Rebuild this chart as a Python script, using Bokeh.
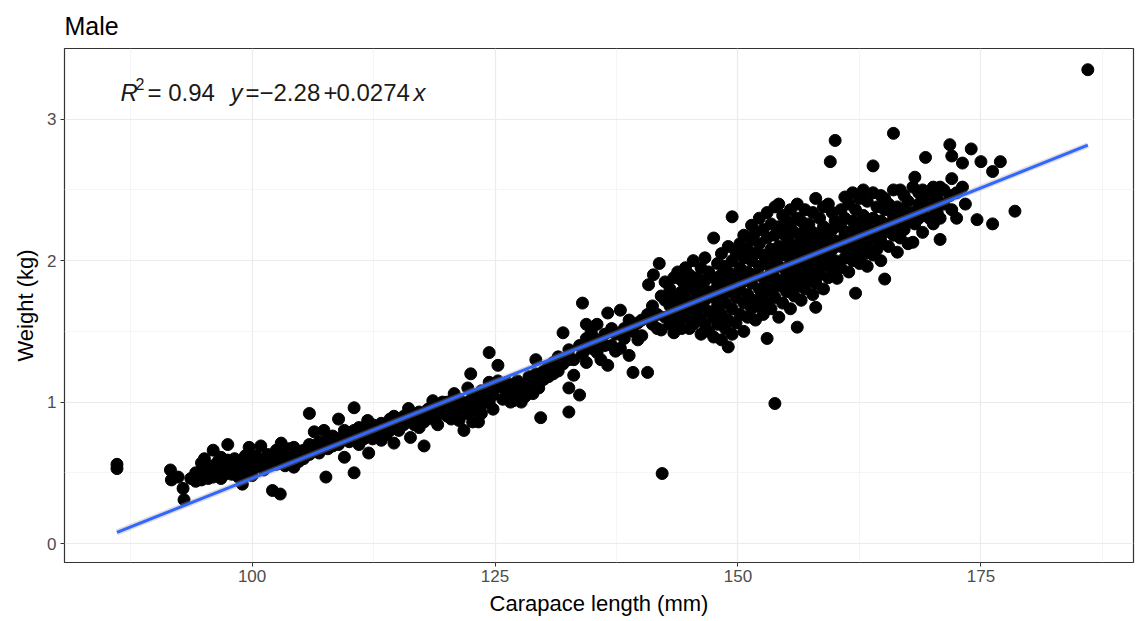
from bokeh.plotting import figure
from bokeh.models import Range1d, FixedTicker
from bokeh.core.properties import value
from bokeh.embed import file_html
from bokeh.resources import INLINE

# ---------------- data ----------------
# carapace length columns (mm) and the weights (kg) observed at each
lengths_small = [86.1, 91.6, 91.7, 92.4, 92.9, 93.0, 93.7, 94.2, 94.8, 95.1, 95.5, 96.0, 96.5, 96.8,
                 97.2, 97.5, 97.9, 98.2, 98.6, 99.0, 99.3, 99.7, 100.0, 100.4, 100.9, 101.2, 101.6,
                 102.1, 102.5, 102.9, 103.0, 103.4, 103.8, 104.3, 104.8]
weights_small = [[0.53, 0.56], [0.52], [0.45], [0.47], [0.39], [0.31], [0.46], [0.50, 0.44],
                 [0.57, 0.52, 0.45], [0.60, 0.48], [0.52, 0.46], [0.66, 0.55, 0.47], [0.50, 0.58],
                 [0.61, 0.46], [0.55, 0.49], [0.70, 0.59], [0.49, 0.54], [0.52, 0.60], [0.55, 0.47],
                 [0.42, 0.58], [0.50, 0.62], [0.68, 0.55], [0.57, 0.52, 0.48], [0.62, 0.55],
                 [0.69, 0.57], [0.59, 0.52], [0.63, 0.55], [0.375, 0.58], [0.56, 0.66], [0.35, 0.60],
                 [0.71], [0.55, 0.64], [0.60, 0.67], [0.68, 0.54, 0.62], [0.58, 0.65]]

lengths_mid = [105.3, 105.9, 106.4, 106.9, 107.4, 107.6, 107.8, 108.3, 108.9, 109.5, 110.0, 110.5,
               111.0, 111.5, 111.9, 112.0, 112.4, 112.9, 113.3, 113.8, 114.2, 114.6, 115.1, 115.6,
               116.1, 116.3, 116.7, 117.2, 117.7, 118.1, 118.6, 119.1, 119.6, 120.1, 120.5, 120.8,
               121.3, 121.8]
weights_mid = [[0.66, 0.60], [0.92, 0.70, 0.63], [0.79, 0.66], [0.72, 0.64], [0.80, 0.70], [0.47],
               [0.73, 0.67], [0.76, 0.69], [0.88, 0.74, 0.70], [0.61, 0.80, 0.74], [0.72, 0.78],
               [0.96, 0.50, 0.80, 0.74], [0.76, 0.70, 0.82], [0.74, 0.82], [0.87, 0.78], [0.64],
               [0.79, 0.84, 0.74], [0.76, 0.82], [0.85, 0.73, 0.80], [0.82, 0.77], [0.88, 0.80],
               [0.71, 0.85, 0.90], [0.86, 0.80], [0.90, 0.84], [0.955, 0.87], [0.75], [0.84, 0.90],
               [0.82, 0.93, 0.88], [0.69, 0.86], [0.95, 0.90], [1.01, 0.88], [0.96, 0.84, 0.92],
               [0.92, 1.00], [1.00, 0.90, 0.95], [0.88, 0.98], [1.06, 0.93], [1.02, 0.95, 0.87],
               [0.80, 0.92]]

lengths_upper = [122.2, 122.5, 122.7, 123.1, 123.3, 123.6, 124.0, 124.4, 124.8, 125.0, 125.3, 125.8,
                 126.2, 126.6, 126.9, 127.3, 127.7, 128.1, 128.5, 128.9, 129.2, 129.5, 129.7, 130.0,
                 130.5, 131.0, 131.5, 132.0, 132.6, 133.1, 133.7, 134.0, 134.4, 134.9, 135.1, 135.5,
                 135.9, 136.3, 136.6, 137.0, 137.4, 137.9, 138.3, 138.8, 139.2, 139.7, 140.1, 140.7,
                 140.8, 141.2, 141.3, 141.7, 141.9, 142.1, 142.2]
weights_upper = [[0.92, 1.00, 1.10], [1.20], [0.86, 0.96, 1.04], [1.04, 0.94], [0.86],
                 [0.98, 1.08, 0.92], [1.08, 1.00], [1.35, 1.00, 1.14], [0.95, 1.05], [1.10],
                 [1.26, 1.15], [1.02, 1.10], [1.08, 1.14], [1.05, 1.00], [1.01, 1.12], [1.15, 1.06],
                 [1.06, 1.12, 1.00], [1.12, 1.04], [1.18, 1.08], [1.14, 1.06], [1.30, 1.20],
                 [1.10, 1.16], [0.89], [1.22, 1.16], [1.25, 1.18], [1.20, 1.28], [1.22, 1.32],
                 [1.49, 1.27], [1.10, 0.93, 1.37, 1.30], [1.19, 1.30], [1.05, 1.40], [1.70, 1.34],
                 [1.45, 1.55, 1.28], [1.38, 1.50], [1.46], [1.55, 1.35], [1.42, 1.30], [1.40, 1.48],
                 [1.63, 1.26], [1.52, 1.40], [1.48, 1.36], [1.65, 1.38], [1.52, 1.45], [1.33, 1.58],
                 [1.21, 1.50], [1.44, 1.56], [1.58, 1.47], [1.21, 1.62], [1.83], [1.55, 1.68],
                 [1.90], [1.62, 1.52], [1.98], [1.51, 1.75], [0.495]]

lengths_large = [142.5, 143.0, 143.4, 143.8, 144.2, 144.6, 145.0, 145.4, 145.8, 146.2, 146.6, 147.0,
                 147.5, 147.9, 148.3, 148.7, 149.0, 149.4, 149.8, 150.2, 150.6, 151.0, 151.4, 151.8,
                 152.2, 152.6, 153.0, 153.4, 153.8, 154.2, 154.6, 155.0, 155.4, 155.8, 156.1, 156.5,
                 156.9, 157.3, 157.7, 158.0, 158.4, 158.8, 159.3, 159.5, 159.7, 160.0, 160.2]
weights_large = [[1.60, 1.72, 1.85], [1.55, 1.68, 1.80], [1.49, 1.62, 1.75, 1.88], [1.58, 1.70, 1.92],
                 [1.52, 1.66, 1.78, 1.86], [1.60, 1.73, 1.95], [1.52, 1.64, 1.80, 1.90],
                 [1.55, 1.70, 1.84, 2.00], [1.62, 1.75, 1.88], [1.48, 1.58, 1.68, 1.80, 1.95],
                 [1.55, 1.72, 1.86, 2.02], [1.50, 1.64, 1.78, 1.92], [1.46, 1.60, 1.74, 1.88, 2.16],
                 [1.55, 1.68, 1.82, 1.98], [1.44, 1.62, 1.76, 1.90, 2.05], [1.52, 1.70, 1.84, 1.96],
                 [1.39, 1.58, 1.78, 1.92, 2.10], [1.48, 1.66, 1.86, 2.00, 2.31],
                 [1.56, 1.74, 1.90, 2.06], [1.62, 1.80, 1.95, 2.12], [1.50, 1.70, 1.86, 2.02, 2.18],
                 [1.60, 1.76, 1.92, 2.08], [1.66, 1.84, 2.00, 2.15, 2.25],
                 [1.58, 1.72, 1.90, 2.05, 2.20], [1.68, 1.80, 1.96, 2.12, 2.30],
                 [1.62, 1.76, 1.88, 2.04, 2.22], [1.45, 1.70, 1.85, 2.00, 2.16, 2.34],
                 [1.66, 1.80, 1.94, 2.08, 2.26], [0.99, 1.74, 1.88, 2.02, 2.18, 2.38],
                 [1.60, 1.82, 1.96, 2.10, 2.24, 2.40], [1.70, 1.86, 2.04, 2.20, 2.32],
                 [1.78, 1.92, 2.06, 2.16, 2.28], [1.66, 1.84, 1.98, 2.12, 2.24, 2.36],
                 [1.75, 1.90, 2.04, 2.20], [1.53, 1.82, 1.96, 2.10, 2.30, 2.40],
                 [1.72, 1.88, 2.02, 2.16, 2.28], [1.80, 1.94, 2.08, 2.22, 2.36],
                 [1.86, 2.00, 2.14, 2.26], [1.76, 1.92, 2.06, 2.20, 2.34],
                 [1.67, 1.84, 1.98, 2.12, 2.44], [1.90, 2.04, 2.18, 2.30],
                 [1.80, 1.96, 2.10, 2.24, 2.38], [1.88, 2.02, 2.16, 2.40], [2.70],
                 [1.94, 2.08, 2.22, 2.34], [2.85, 2.00, 2.14, 2.28], [1.875]]

lengths_xl = [160.6, 161.0, 161.4, 161.8, 162.1, 162.5, 162.9, 163.3, 163.9, 164.3, 164.7, 165.1,
              165.5, 166.0, 166.4, 166.7, 167.1, 167.5, 168.0, 168.2, 168.6, 169.0, 169.3, 169.7,
              170.1, 170.5, 170.8, 171.2, 171.8, 172.0, 172.5, 173.1, 173.4, 174.0, 174.6, 175.0,
              176.2, 177.0, 178.5, 186.0]
weights_xl = [[1.95, 2.10, 2.24, 2.36], [2.02, 2.18, 2.30, 2.45], [1.92, 2.08, 2.20, 2.40],
              [2.00, 2.14, 2.28, 2.48], [1.77, 2.06, 2.22, 2.36], [1.98, 2.12, 2.26, 2.44],
              [2.04, 2.18, 2.32, 2.50], [1.96, 2.10, 2.24, 2.42], [2.67, 2.48, 2.16, 2.30, 2.04],
              [2.08, 2.22, 2.38], [2.00, 2.14, 2.28, 2.46], [1.87, 2.20, 2.36, 2.44],
              [2.10, 2.26, 2.40], [2.90, 2.18, 2.32, 2.50], [2.06, 2.24, 2.38], [2.50, 2.30, 2.16],
              [2.22, 2.36, 2.46], [2.12, 2.28, 2.42], [2.13, 2.34, 2.52], [2.59, 2.26],
              [2.40, 2.30, 2.48], [2.20, 2.36, 2.50], [2.73, 2.44], [2.30, 2.48, 2.40],
              [2.26, 2.52, 2.38], [2.44, 2.34], [2.52, 2.15, 2.30], [2.40, 2.50], [2.82, 2.46],
              [2.74, 2.58, 2.36], [2.48, 2.30], [2.69, 2.52], [2.40], [2.79], [2.29], [2.70],
              [2.63, 2.26], [2.70], [2.35], [3.35]]

# fitted regression (from the chart annotation)
fit_intercept = -2.28
fit_slope = 0.0274
r_squared = 0.94

x_ticks = [100, 125, 150, 175]
x_minor = [87.5, 112.5, 137.5, 162.5, 187.5]
y_ticks = [0, 1, 2, 3]
y_minor = [0.5, 1.5, 2.5, 3.5]

# ---------------- expand columns to points ----------------
xs, ys = [], []
for Ls, Ws in [(lengths_small, weights_small), (lengths_mid, weights_mid),
               (lengths_upper, weights_upper), (lengths_large, weights_large),
               (lengths_xl, weights_xl)]:
    for L, wlist in zip(Ls, Ws):
        for w in wlist:
            xs.append(L)
            ys.append(w)

x_min, x_max = min(xs), max(xs)
fit_x = [x_min, x_max]
fit_y = [fit_intercept + fit_slope * v for v in fit_x]

FONT = "Liberation Sans"
X0, X1 = 80.7, 190.7
Y0, Y1 = -0.134, 3.50

p = figure(width=1145, height=621, output_backend="svg", toolbar_location=None,
           x_range=Range1d(X0, X1), y_range=Range1d(Y0, Y1),
           min_border_left=64, min_border_right=12, min_border_top=48, min_border_bottom=59,
           title="Male")
p.title.text_font = FONT
p.title.text_font_size = "25px"
p.title.text_font_style = "normal"
p.title.text_color = "#000000"
p.title.text_line_height = 1.0
p.title.offset = 0
p.title.standoff = 18

p.background_fill_color = "white"
p.border_fill_color = "white"
p.outline_line_color = "#333333"
p.outline_line_width = 1.2

for ax, ticks, minor in [(p.xaxis[0], x_ticks, x_minor), (p.yaxis[0], y_ticks, y_minor)]:
    ax.ticker = FixedTicker(ticks=ticks, minor_ticks=minor)
    ax.axis_line_color = None
    ax.major_tick_line_color = "#333333"
    ax.major_tick_in = 0
    ax.major_tick_out = 4
    ax.minor_tick_line_color = None
    ax.major_label_text_font = FONT
    ax.major_label_text_font_size = "17px"
    ax.major_label_text_color = "#4D4D4D"
    ax.axis_label_text_font = FONT
    ax.axis_label_text_font_size = "22px"
    ax.axis_label_text_font_style = "normal"
    ax.axis_label_text_color = "#000000"

p.xaxis.axis_label = "Carapace length (mm)"
p.yaxis.axis_label = "Weight (kg)"
p.xaxis.major_label_standoff = 3
p.yaxis.major_label_standoff = 4
p.xaxis.axis_label_standoff = 6
p.yaxis.axis_label_standoff = 6

for g in (p.xgrid[0], p.ygrid[0]):
    g.grid_line_color = "#EBEBEB"
    g.grid_line_width = 1.2
    g.minor_grid_line_color = "#F2F2F2"
    g.minor_grid_line_width = 0.8
p.xgrid[0].ticker = FixedTicker(ticks=x_ticks, minor_ticks=x_minor)
p.ygrid[0].ticker = FixedTicker(ticks=y_ticks, minor_ticks=y_minor)

# points
p.scatter(xs, ys, size=12, color="black", line_color="black")

# regression line with a faint confidence ribbon
p.line(fit_x, fit_y, line_color="#9E9E9E", line_width=6, line_alpha=0.35)
p.line(fit_x, fit_y, line_color="#3366FF", line_width=3)

# annotation
ann_y = Y1 - (92 - 48) / ((562 - 48) / (Y1 - Y0))
pieces = [
    ("R", 56, 0, "italic", "24px"),
    ("2", 71, -9, "normal", "16px"),
    ("= " + f"{r_squared:.2f}", 83, 0, "normal", "24px"),
    ("y", 166, 0, "italic", "24px"),
    ("=", 181, 0, "normal", "24px"),
    (f"\u2212{abs(fit_intercept):.2f}", 195, 0, "normal", "24px"),
    ("+", 259, 0, "normal", "24px"),
    (f"{fit_slope:.4f}", 272, 0, "normal", "24px"),
    ("x", 349, 0, "italic", "24px"),
]
for txt, dx, dy, style, size in pieces:
    p.text(x=[X0], y=[ann_y], text=[txt], x_offset=dx, y_offset=dy,
           text_font=value(FONT), text_font_size=size, text_font_style=style,
           text_color="#1A1A1A", text_baseline="alphabetic", text_align="left")

open("out.html", "w").write(file_html(p, INLINE))
